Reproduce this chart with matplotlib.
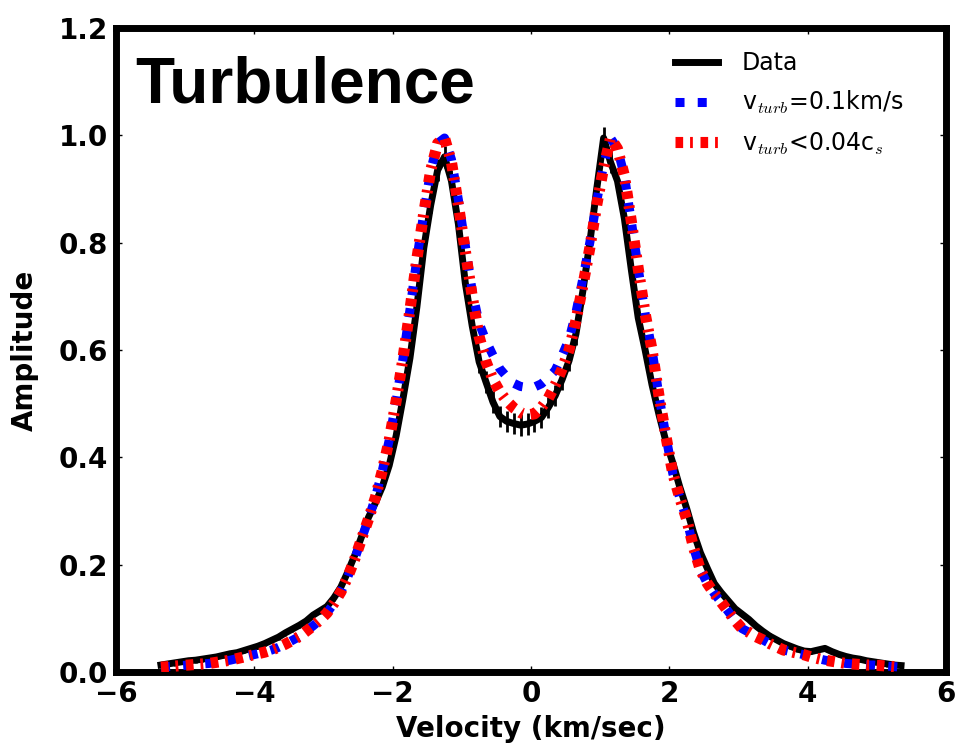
import numpy as np
import matplotlib
matplotlib.use("Agg")
import matplotlib.pyplot as plt

plt.rcParams['lines.scale_dashes'] = False
plt.rcParams['mathtext.fontset'] = 'cm'
plt.rcParams['axes.unicode_minus'] = True

# velocity channels (km/s)
velocity = np.round(np.arange(-5.35, 5.351, 0.1), 2)

data_amp = [
    0.013, 0.015, 0.017, 0.019, 0.021, 0.022, 0.024, 0.026, 0.028, 0.031,
    0.034, 0.036, 0.040, 0.044, 0.048, 0.053, 0.059, 0.065, 0.073, 0.080,
    0.087, 0.095, 0.106, 0.114, 0.122, 0.138, 0.158, 0.186, 0.217, 0.252,
    0.288, 0.315, 0.345, 0.385, 0.440, 0.510, 0.585, 0.680, 0.790, 0.870,
    0.935, 0.960, 0.915, 0.835, 0.725, 0.645, 0.578, 0.540, 0.503, 0.476,
    0.467, 0.463, 0.460, 0.462, 0.467, 0.474, 0.493, 0.515, 0.545, 0.580,
    0.630, 0.710, 0.800, 0.900, 0.995, 0.950, 0.915, 0.845, 0.750, 0.660,
    0.600, 0.535, 0.480, 0.430, 0.390, 0.345, 0.305, 0.260, 0.222, 0.193,
    0.165, 0.148, 0.133, 0.118, 0.108, 0.098, 0.086, 0.076, 0.067, 0.060,
    0.053, 0.048, 0.043, 0.039, 0.038, 0.041, 0.044, 0.038, 0.033, 0.029,
    0.026, 0.024, 0.021, 0.019, 0.017, 0.015, 0.013, 0.012,
]

data_err = ([0.005] * 38 + [0.010, 0.015] + [0.02] * 26 + [0.015, 0.010, 0.010]
            + [0.005] * 39)

model_vturb = [
    0.009, 0.010, 0.011, 0.012, 0.013, 0.014, 0.015, 0.016, 0.018, 0.020,
    0.022, 0.025, 0.028, 0.031, 0.034, 0.037, 0.041, 0.046, 0.052, 0.059,
    0.066, 0.076, 0.086, 0.097, 0.110, 0.128, 0.149, 0.177, 0.210, 0.248,
    0.285, 0.325, 0.375, 0.432, 0.505, 0.585, 0.675, 0.770, 0.855, 0.935,
    0.985, 0.995, 0.955, 0.880, 0.795, 0.710, 0.650, 0.617, 0.590, 0.565,
    0.550, 0.538, 0.532, 0.530, 0.531, 0.537, 0.548, 0.562, 0.590, 0.620,
    0.670, 0.733, 0.800, 0.877, 0.945, 0.995, 0.975, 0.925, 0.840, 0.752,
    0.668, 0.600, 0.515, 0.440, 0.370, 0.325, 0.285, 0.232, 0.190, 0.165,
    0.146, 0.130, 0.113, 0.096, 0.081, 0.074, 0.066, 0.060, 0.053, 0.047,
    0.041, 0.038, 0.035, 0.032, 0.028, 0.025, 0.022, 0.020, 0.018, 0.016,
    0.015, 0.014, 0.013, 0.013, 0.012, 0.011, 0.010, 0.009,
]

model_cs = [
    0.009, 0.010, 0.011, 0.012, 0.013, 0.014, 0.015, 0.016, 0.018, 0.020,
    0.022, 0.025, 0.028, 0.031, 0.034, 0.037, 0.041, 0.046, 0.052, 0.059,
    0.066, 0.076, 0.086, 0.097, 0.110, 0.128, 0.149, 0.177, 0.210, 0.248,
    0.285, 0.325, 0.375, 0.432, 0.505, 0.585, 0.675, 0.770, 0.855, 0.935,
    0.985, 0.995, 0.950, 0.870, 0.785, 0.700, 0.625, 0.578, 0.545, 0.522,
    0.505, 0.492, 0.483, 0.479, 0.481, 0.493, 0.510, 0.535, 0.565, 0.600,
    0.655, 0.720, 0.790, 0.870, 0.940, 0.995, 0.975, 0.925, 0.840, 0.752,
    0.668, 0.600, 0.515, 0.440, 0.370, 0.325, 0.285, 0.232, 0.190, 0.165,
    0.146, 0.130, 0.113, 0.096, 0.081, 0.074, 0.066, 0.060, 0.053, 0.047,
    0.041, 0.038, 0.035, 0.032, 0.028, 0.025, 0.022, 0.020, 0.018, 0.016,
    0.015, 0.014, 0.013, 0.013, 0.012, 0.011, 0.010, 0.009,
]

labels = ['Data', r'v$_{turb}$=0.1km/s', r'v$_{turb}$<0.04c$_s$']
x_ticks = [-6, -4, -2, 0, 2, 4, 6]
y_ticks = [0.0, 0.2, 0.4, 0.6, 0.8, 1.0, 1.2]

fig = plt.figure(figsize=(9.59, 7.48), dpi=100)
ax = fig.add_axes([116 / 959, 1 - 672 / 748, (946 - 116) / 959, (672 - 28) / 748])

ax.errorbar(velocity, data_amp, yerr=data_err, fmt='none', ecolor='k',
            elinewidth=2, capsize=0, zorder=2)
ax.plot(velocity, data_amp, color='k', lw=5, label=labels[0], zorder=2,
        solid_joinstyle='round')
l1, = ax.plot(velocity, model_vturb, color='#0000ff', lw=6.5, label=labels[1], zorder=3)
l1.set_dashes((6.5, 9.5))
l1.set_dash_capstyle('butt')
l2, = ax.plot(velocity, model_cs, color='#ff0000', lw=8, label=labels[2], zorder=4)
l2.set_dashes((5.5, 5.0, 2.0, 5.5))
l2.set_dash_capstyle('butt')

ax.set_xlim(-6, 6)
ax.set_ylim(0, 1.2)
ax.set_xticks(x_ticks)
ax.set_yticks(y_ticks)
ax.set_xticklabels([f'{t}'.replace('-', '\u2212') for t in x_ticks])
ax.set_yticklabels([f'{t:.1f}' for t in y_ticks])
ax.tick_params(direction='in', length=4, width=1, top=True, right=True,
               labelsize=20, pad=6)
for lab in ax.get_xticklabels() + ax.get_yticklabels():
    lab.set_fontweight('bold')
for s in ax.spines.values():
    s.set_linewidth(5)

ax.set_xlabel('Velocity (km/sec)', fontsize=20, fontweight='bold', labelpad=5)
ax.set_ylabel('Amplitude', fontsize=20, fontweight='bold', labelpad=14)

ax.text(0.023, 0.885, 'Turbulence', transform=ax.transAxes,
        fontfamily='Liberation Sans', fontweight='bold', fontsize=46,
        ha='left', va='baseline')

leg = ax.legend(loc='upper left', bbox_to_anchor=(0.673, 0.964), frameon=False,
                fontsize=17, handlelength=1.85, handletextpad=1.0,
                labelspacing=0.6, borderpad=0, borderaxespad=0)

fig.savefig('out.png', dpi=100)
